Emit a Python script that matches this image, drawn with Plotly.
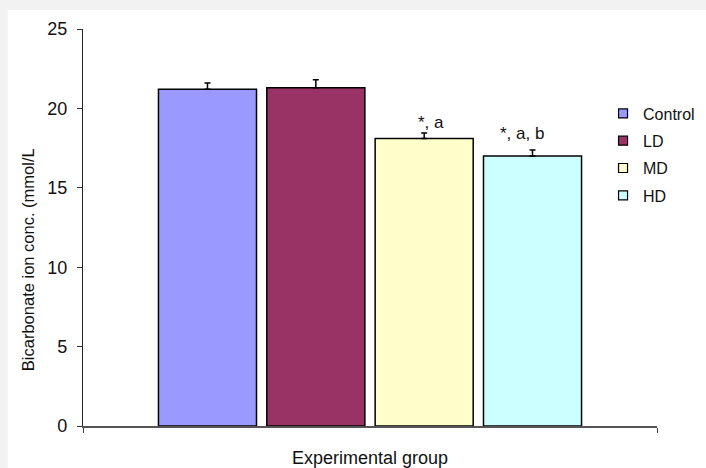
import plotly.graph_objects as go

groups = ["Control", "LD", "MD", "HD"]
means = [21.2, 21.3, 18.1, 17.0]
errors = [0.4, 0.5, 0.35, 0.38]
colors = ["#9999FF", "#993366", "#FFFFCC", "#CCFFFF"]
category = ["Experimental group"]
sig_labels = ["", "", "*, a", "*, a, b"]
y_ticks = [0, 5, 10, 15, 20, 25]

FONT = "Liberation Sans, Arial, sans-serif"

fig = go.Figure()
for g, m, e, c in zip(groups, means, errors, colors):
    fig.add_trace(go.Bar(
        x=category, y=[m], name=g, showlegend=False,
        marker=dict(color=c, line=dict(color="black", width=1.5)),
        error_y=dict(type="data", symmetric=False, array=[e], arrayminus=[0],
                     color="black", thickness=1.5, width=3),
        hoverinfo="skip",
    ))
# legend entries (small square swatches)
for g, c in zip(groups, colors):
    fig.add_trace(go.Scatter(
        x=[None], y=[None], mode="markers", name=g, legendgroup=g,
        marker=dict(symbol="square", size=9, color=c, line=dict(color="black", width=1.2)),
    ))

# significance labels
ann_x = [None, None, 0.607, 0.764]
ann_y = [None, None, 19.1, 18.45]
for lab, ax, ay in zip(sig_labels, ann_x, ann_y):
    if lab:
        fig.add_annotation(x=ax, xref="paper", y=ay, yref="y", text=lab,
                           showarrow=False, font=dict(size=17, color="#111"),
                           xanchor="center", yanchor="middle")

# y-axis title
fig.add_annotation(x=-0.096, xref="paper", y=0.42, yref="paper",
                   text="Bicarbonate ion conc. (mmol/L", textangle=-90,
                   showarrow=False, font=dict(size=16.5, color="#111"),
                   xanchor="center", yanchor="middle")

# white panel over grey page
fig.add_shape(type="rect", xref="paper", yref="paper",
              x0=-0.131, x1=1.2, y0=-0.2, y1=1.048,
              fillcolor="white", line=dict(width=0), layer="below")

fig.update_layout(
    width=706, height=468,
    margin=dict(l=83, r=49, t=29, b=42, autoexpand=False),
    paper_bgcolor="#f2f2f2", plot_bgcolor="white",
    barmode="group", bargap=0.245, bargroupgap=0.095,
    font=dict(family=FONT, size=17, color="#111"),
    legend=dict(x=0.906, xanchor="left", y=0.83, yanchor="top",
                font=dict(size=16), bgcolor="rgba(0,0,0,0)",
                tracegroupgap=3.5),
    xaxis=dict(showticklabels=False, ticks="outside", tickson="boundaries",
               ticklen=5, tickcolor="#444", showline=True, linecolor="#555",
               linewidth=1.5, showgrid=False, zeroline=False, automargin=False,
               title=dict(text="Experimental group", font=dict(size=18), standoff=26)),
    yaxis=dict(range=[0, 25], tickvals=y_ticks, ticks="outside", ticklen=5,
               tickcolor="#333", showline=True, linecolor="#222", linewidth=1.2,
               showgrid=False, zeroline=False, tickfont=dict(size=18),
               ticklabelstandoff=6, automargin=False),
)

fig.write_html(
    "out.html",
    config={"displayModeBar": False},
    post_script="document.body.style.margin='0';document.body.style.background='#f2f2f2';",
)
